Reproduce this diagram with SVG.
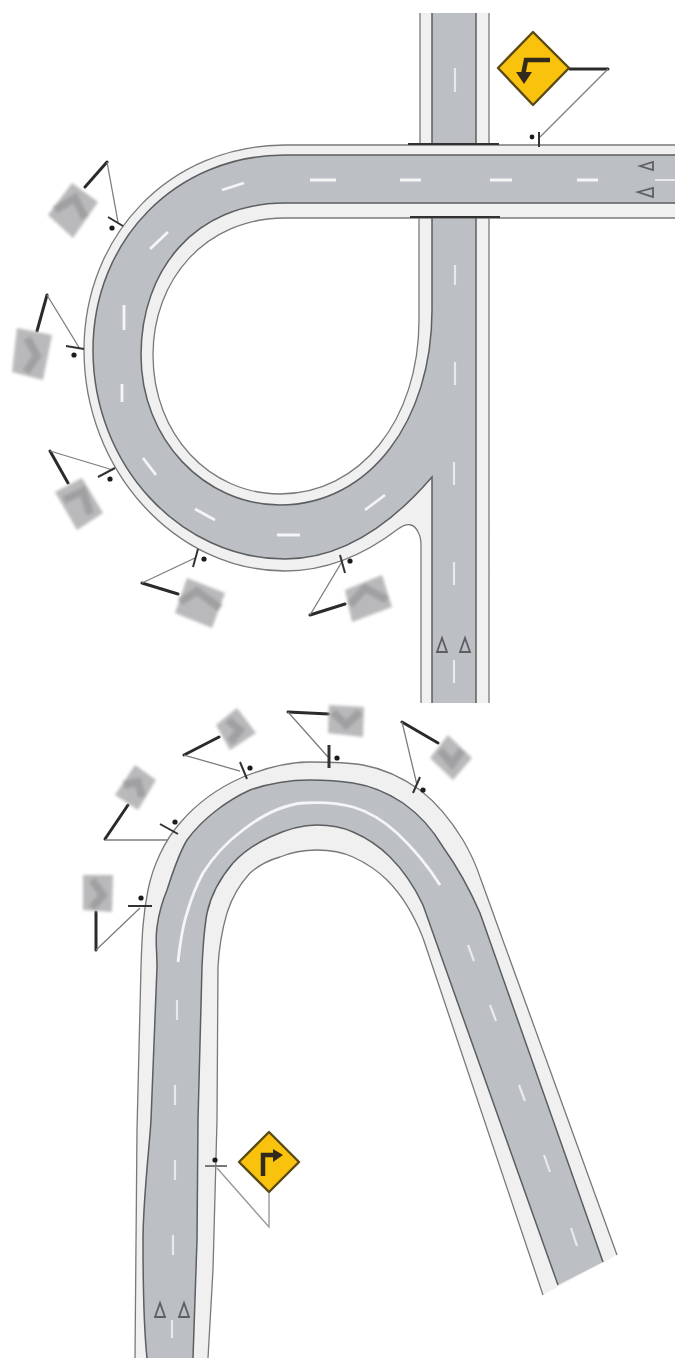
<svg xmlns="http://www.w3.org/2000/svg" width="675" height="1358" viewBox="0 0 675 1358">
<style>
.sh{fill:#f0f0f0;stroke:none}
.pv{fill:#bcbfc3;stroke:none}
.e{fill:none;stroke:#5c5e60;stroke-width:1.5}
.eo{fill:none;stroke:#77797b;stroke-width:1.3}
.d{fill:none;stroke:#f4f5f6;stroke-width:2.8}
.dv{fill:none;stroke:#e8eaec;stroke-width:2.2}
.thick{fill:none;stroke:#2b2b2b;stroke-width:3;stroke-linecap:round}
.thin{fill:none;stroke:#7d7d7d;stroke-width:1.3}
.bar{fill:none;stroke:#333;stroke-width:2}
.dot{fill:#1c1c1c}
.gs{fill:#b9b9bb}
.ch{fill:none;stroke:#a0a0a2;stroke-width:8}
.ys{fill:#f9c30b;stroke:#5a4a18;stroke-width:2.4;stroke-linejoin:round}
.ya{fill:none;stroke:#33291a;stroke-width:4.5}
.yh{fill:#33291a}
.tri{fill:none;stroke:#5c5e60;stroke-width:1.8}
</style>
<defs>
<filter id="b" x="-5%" y="-5%" width="110%" height="110%"><feGaussianBlur stdDeviation="0.75"/></filter>
<filter id="b2" x="-20%" y="-20%" width="140%" height="140%"><feGaussianBlur stdDeviation="1.8"/></filter>
</defs>
<rect width="675" height="1358" fill="#fff"/>
<g filter="url(#b)">
<g id="road-top">
<rect class="sh" x="420" y="13" width="69" height="132"/>
<rect class="pv" x="432" y="13" width="44" height="132"/>
<path class="eo" d="M420 13V144M489 13V144"/>
<path class="e" d="M432 13V144M476 13V144"/>
<path class="dv" d="M455 68V92"/>
<path class="sh" d="M675 145H285C170 145 84 235 84 350C84 470 175 571 285 571C330 571 368 552 398 529Q412 519 418 532Q421 537 421 545V703H489V218H675Z"/>
<path class="pv" d="M675 155H285C176 155 93 240 93 350C93 465 180 559 285 559C345 559 395 520 432 477V703H476V203H675Z"/>
<path class="sh" d="M285 203C195 203 141 270 141 355C141 440 205 505 280 505C370 505 432 420 432 310V203Z"/>
<rect class="sh" x="285" y="203" width="390" height="15"/>
<path d="M285 218C205 218 153 280 153 355C153 435 210 494 280 494C360 494 419 420 419 320V218Z" fill="#fff" stroke="#77797b" stroke-width="1.3"/>
<path class="eo" d="M675 145H285C170 145 84 235 84 350C84 470 175 571 285 571C330 571 368 552 398 529Q412 519 418 532Q421 537 421 545V703M489 218V703M419 218H675"/>
<path class="e" d="M675 155H285C176 155 93 240 93 350C93 465 180 559 285 559C345 559 395 520 432 477V703M476 218V703M675 203H285C195 203 141 270 141 355C141 440 205 505 280 505C370 505 432 420 432 310V218"/>
<path d="M408 144H499M410 217H500" stroke="#333" stroke-width="2" fill="none"/>
<path class="d" d="M222 190L244 183M150 249L168 232M124 305V330M122 384V402M143 458L156 475M195 509L215 520M277 535H300M365 510L385 495M310 180H336M400 180H421M490 180H512M577 180H598"/>
<path class="dv" d="M655 180H675M455 265V285M455 362V385M454 462V485M454 562V585M454 660V683"/>
<path class="tri" d="M640 166L653 162V170ZM638 192L653 188V197ZM442 638L437 652H447ZM465 638L460 652H470Z"/>
</g>
<g id="road-bottom">
<path class="sh" d="M135 1358L137 1130L141 967C142 935 143 915 148 890C153 865 165 840 180 823C197 803 220 787 243 777C265 768 288 762 310 762C330 762 346 762 363 765C385 769 403 778 420 790C438 804 452 822 463 840C470 852 476 865 480 877L617 1255L543 1295L423 938C414 915 402 895 387 880C377 870 366 863 353 857C342 852 330 850 317 850C305 850 292 852 280 857C269 860 259 865 250 873C240 884 232 897 227 913C222 930 219 948 218 967L217 1120L213 1270L208 1358Z"/>
<path class="pv" d="M147 1358C143 1320 143 1270 143 1240C143 1200 150 1140 151 1120L157 967C157 950 155 940 157 927C159 912 162 902 167 890C173 872 178 855 187 840C203 818 228 800 250 790C270 783 290 780 310 780C325 780 340 781 353 783C372 786 388 793 403 803C420 815 433 830 443 847C458 868 470 890 480 913L603 1262L558 1285L423 905C415 888 403 870 390 857C379 846 367 838 353 832C342 827 330 825 317 825C300 825 285 830 270 837C257 843 244 851 233 863C221 877 211 895 207 913C204 930 203 945 202 967L198 1120L197 1240L193 1358Z"/>
<path class="eo" d="M135 1358L137 1130L141 967C142 935 143 915 148 890C153 865 165 840 180 823C197 803 220 787 243 777C265 768 288 762 310 762C330 762 346 762 363 765C385 769 403 778 420 790C438 804 452 822 463 840C470 852 476 865 480 877L617 1255M543 1295L423 938C414 915 402 895 387 880C377 870 366 863 353 857C342 852 330 850 317 850C305 850 292 852 280 857C269 860 259 865 250 873C240 884 232 897 227 913C222 930 219 948 218 967L217 1120L213 1270L208 1358"/>
<path class="e" d="M147 1358C143 1320 143 1270 143 1240C143 1200 150 1140 151 1120L157 967C157 950 155 940 157 927C159 912 162 902 167 890C173 872 178 855 187 840C203 818 228 800 250 790C270 783 290 780 310 780C325 780 340 781 353 783C372 786 388 793 403 803C420 815 433 830 443 847C458 868 470 890 480 913L603 1262M558 1285L423 905C415 888 403 870 390 857C379 846 367 838 353 832C342 827 330 825 317 825C300 825 285 830 270 837C257 843 244 851 233 863C221 877 211 895 207 913C204 930 203 945 202 967L198 1120L197 1240L193 1358"/>
<path class="d" d="M178 962C180 944 182 928 187 913C191 899 196 886 203 873C213 857 227 842 243 830C261 816 282 805 303 803C320 802 338 803 353 807C370 812 384 821 397 833C413 848 428 866 440 885"/>
<path class="dv" d="M468 945L474 961M490 1005L496 1021M519 1085L525 1101M544 1155L550 1172M571 1228L577 1246M177 1000V1020M175 1085V1105M175 1160V1180M173 1235V1255M172 1320V1338"/>
<path class="tri" d="M160 1303L155 1317H165ZM184 1303L179 1317H189Z"/>
</g>
<g id="connectors">
<path class="thick" d="M570 69H608M85 187L107 162M37 331L47 295M68 483L50 451M178 594L142 583M345 604L310 615M96 912V950M128 805L105 839M219 737L184 755M329 714L288 712M438 743L402 722"/>
<path class="thin" d="M608 69L540 137M107 162L118 222M47 295L80 349M50 451L113 470M142 583L195 558M310 615L343 560M96 950L140 908M105 840H168M184 755L240 771M288 712L328 757M402 722L417 785"/>
<path d="M269 1193V1227L217 1168" fill="none" stroke="#9a9a9a" stroke-width="1.4"/>
</g>
<g id="posts">
<path class="bar" d="M539 132V147M108 217L123 226M66 346L84 349M98 477L115 468M198 549L193 567M340 555L345 573M128 906H152M160 824L178 834M240 762L247 779M413 793L420 777"/>
<path d="M329 745V768" stroke="#333" stroke-width="3" fill="none"/>
<path d="M205 1166H227" stroke="#777" stroke-width="2" fill="none"/>
<circle class="dot" cx="532" cy="137" r="2.4"/><circle class="dot" cx="112" cy="228" r="2.6"/><circle class="dot" cx="74" cy="355" r="2.6"/><circle class="dot" cx="110" cy="479" r="2.6"/><circle class="dot" cx="204" cy="559" r="2.6"/><circle class="dot" cx="350" cy="561" r="2.6"/><circle class="dot" cx="141" cy="898" r="2.6"/><circle class="dot" cx="175" cy="822" r="2.6"/><circle class="dot" cx="250" cy="768" r="2.6"/><circle class="dot" cx="337" cy="758" r="2.6"/><circle class="dot" cx="423" cy="790" r="2.6"/><circle class="dot" cx="215" cy="1160" r="2.6"/>
</g>
<g id="sign-left-turn">
<path class="ys" d="M533 32L569 68L533 105L498 68Z"/>
<path class="ya" d="M550 60H526L523 75"/>
<path class="yh" d="M516 72H532L524 84Z"/>
</g>
<g id="sign-right-turn">
<path class="ys" d="M269 1132L299 1162L269 1192L239 1162Z"/>
<path class="ya" d="M263 1176V1155H275"/>
<path class="yh" d="M273 1149L283 1155L273 1162Z"/>
</g>
</g>
<g filter="url(#b2)">
<g id="chevron-1"><path class="gs" d="M72 183L98 202L73 238L48 215Z"/><path class="ch" d="M55 210L75 198L85 218"/></g>
<g id="chevron-2"><path class="gs" d="M17 328L52 335L43 380L12 372Z"/><path class="ch" d="M27 338L37 356L26 372"/></g>
<g id="chevron-3"><path class="gs" d="M82 478L103 513L77 530L55 492Z"/><path class="ch" d="M64 500L83 491L90 514"/></g>
<g id="chevron-4"><path class="gs" d="M187 578L225 593L212 628L175 613Z"/><path class="ch" d="M180 602L197 591L220 608" stroke="#909092"/></g>
<g id="chevron-5"><path class="gs" d="M345 590L382 575L392 607L352 622Z"/><path class="ch" d="M350 605L365 588L387 600" stroke="#909092"/></g>
<g id="chevron-6"><path class="gs" d="M83 875H113L112 912L83 910Z"/><path class="ch" d="M92 880L103 895L92 908"/></g>
<g id="chevron-7"><path class="gs" d="M135 765L156 780L138 810L115 795Z"/><path class="ch" d="M124 785L138 782L142 797"/></g>
<g id="chevron-8"><path class="gs" d="M237 708L256 733L230 750L216 725Z"/><path class="ch" d="M228 720L240 730L230 742"/></g>
<g id="chevron-9"><path class="gs" d="M329 705L364 707L363 737L328 733Z"/><path class="ch" d="M333 712L346 725L360 712"/></g>
<g id="chevron-10"><path class="gs" d="M448 735L472 758L453 780L430 758Z"/><path class="ch" d="M440 750L452 764L462 750"/></g>
</g>
</svg>
